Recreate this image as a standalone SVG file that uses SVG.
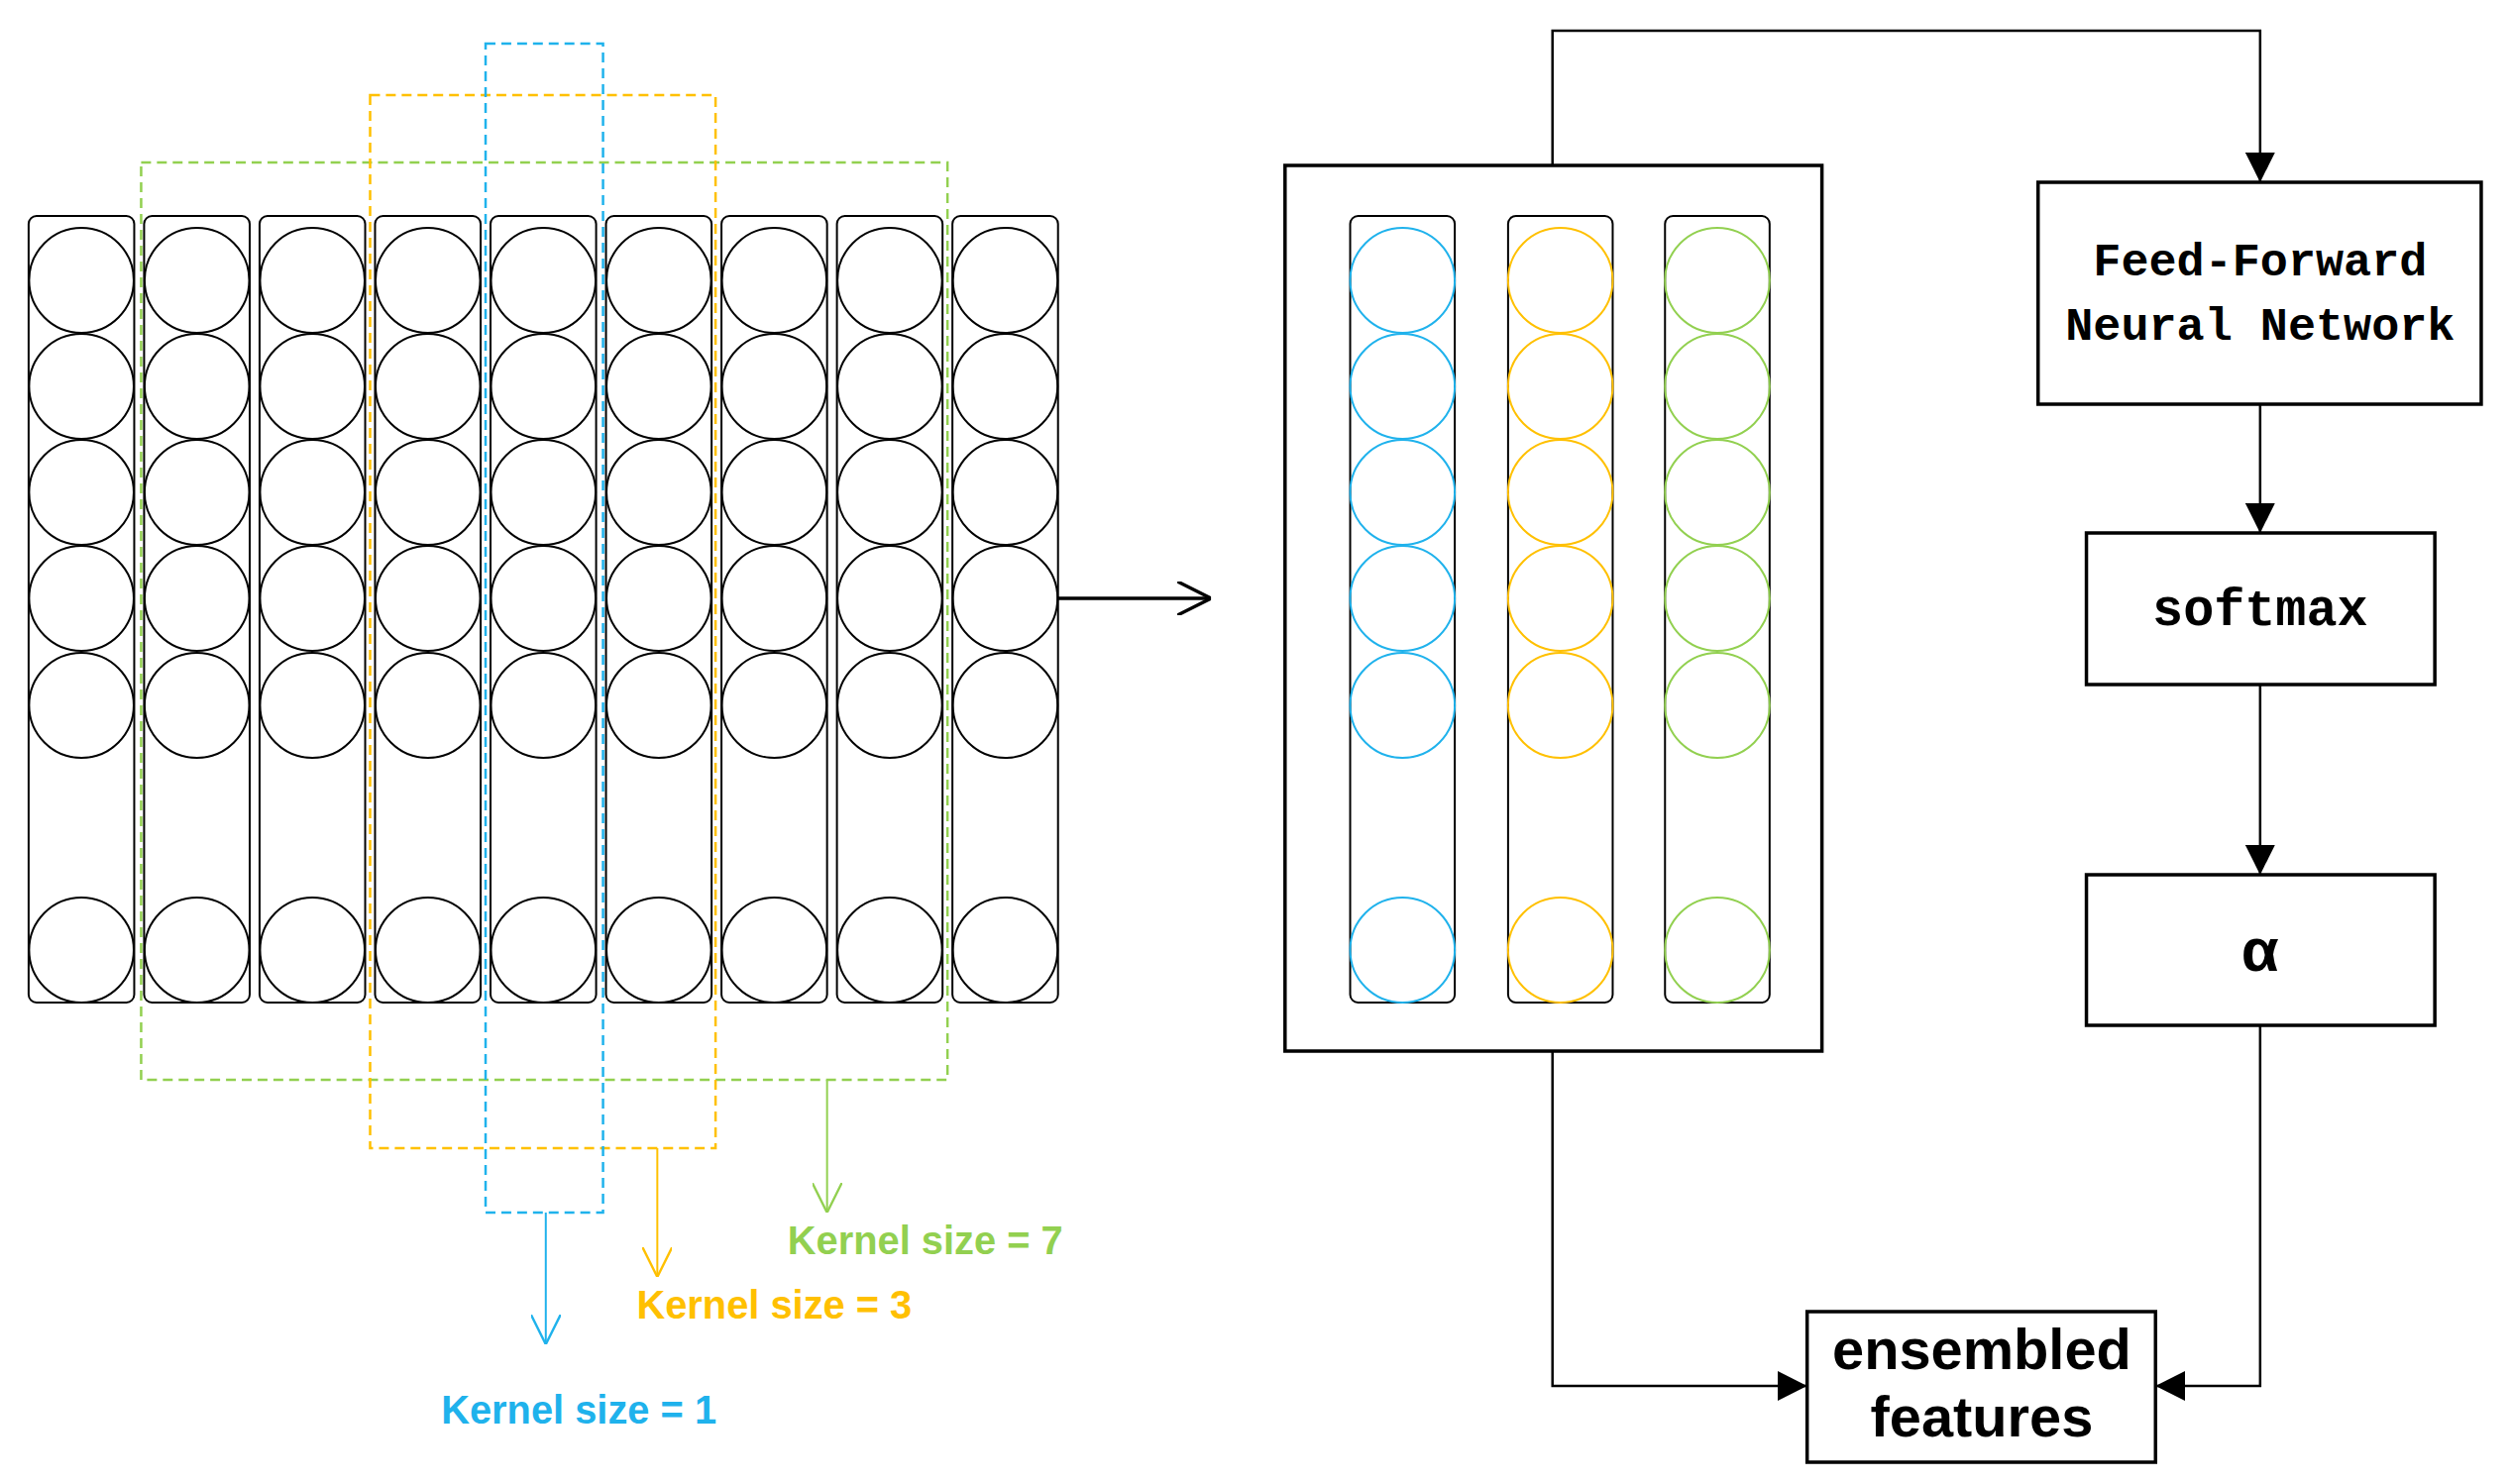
<svg xmlns="http://www.w3.org/2000/svg" width="2535" height="1498" viewBox="0 0 2535 1498">
<style>
.col{fill:none;stroke:#000;stroke-width:2}
.c{fill:none;stroke:#000;stroke-width:2}
.cb{fill:none;stroke:#1FB2EC;stroke-width:2}
.cy{fill:none;stroke:#FFC000;stroke-width:2}
.cg{fill:none;stroke:#92D050;stroke-width:2}
.box{fill:#fff;stroke:#000;stroke-width:3.5}
.line{fill:none;stroke:#000;stroke-width:2.5}
.mono{font-family:"Liberation Mono","DejaVu Sans Mono",monospace;font-weight:bold;fill:#000;text-anchor:middle}
.sans{font-family:"Liberation Sans",Arial,sans-serif;font-weight:bold;text-anchor:middle}
.k{font-family:"Liberation Sans",Arial,sans-serif;font-size:40px;font-weight:bold}
</style>
<defs>
<marker id="fb" viewBox="0 0 10 10" refX="10" refY="5" markerWidth="30" markerHeight="30" orient="auto" markerUnits="userSpaceOnUse"><path d="M0,0 L10,5 L0,10 z" fill="#000"/></marker>
<marker id="ob" viewBox="0 0 10 10" refX="10" refY="5" markerWidth="34" markerHeight="34" orient="auto" markerUnits="userSpaceOnUse"><path d="M0,0 L10,5 L0,10" fill="none" stroke="#000" stroke-width="1"/></marker>
<marker id="ogr" viewBox="0 0 10 10" refX="10" refY="5" markerWidth="30" markerHeight="30" orient="auto" markerUnits="userSpaceOnUse"><path d="M0,0 L10,5 L0,10" fill="none" stroke="#92D050" stroke-width="0.8"/></marker>
<marker id="oye" viewBox="0 0 10 10" refX="10" refY="5" markerWidth="30" markerHeight="30" orient="auto" markerUnits="userSpaceOnUse"><path d="M0,0 L10,5 L0,10" fill="none" stroke="#FFC000" stroke-width="0.8"/></marker>
<marker id="obl" viewBox="0 0 10 10" refX="10" refY="5" markerWidth="30" markerHeight="30" orient="auto" markerUnits="userSpaceOnUse"><path d="M0,0 L10,5 L0,10" fill="none" stroke="#1FB2EC" stroke-width="0.8"/></marker>
<g id="colL">
<rect class="col" x="0" y="218" width="107" height="794" rx="8"/>
<circle class="c" cx="53.5" cy="283" r="53"/><circle class="c" cx="53.5" cy="390" r="53"/><circle class="c" cx="53.5" cy="497" r="53"/><circle class="c" cx="53.5" cy="604" r="53"/><circle class="c" cx="53.5" cy="712" r="53"/><circle class="c" cx="53.5" cy="959" r="53"/>
</g>
</defs>
<g transform="scale(0.996,1)">
<g id="input-columns">
<use href="#colL" x="29"/><use href="#colL" x="146"/><use href="#colL" x="263"/><use href="#colL" x="380"/><use href="#colL" x="497"/><use href="#colL" x="614"/><use href="#colL" x="731"/><use href="#colL" x="848"/><use href="#colL" x="965"/>
</g>
<g id="kernels">
<rect x="143" y="164" width="817" height="926" fill="none" stroke="#92D050" stroke-width="2.5" stroke-dasharray="10,6"/>
<rect x="375" y="96" width="350" height="1063" fill="none" stroke="#FFC000" stroke-width="2.5" stroke-dasharray="10,6"/>
<rect x="492" y="44" width="119" height="1180" fill="none" stroke="#1FB2EC" stroke-width="2.5" stroke-dasharray="10,6"/>
<text class="k" x="798" y="1266" fill="#92D050">Kernel size = 7</text>
<text class="k" x="645" y="1331" fill="#FFC000">Kernel size = 3</text>
<text class="k" x="447" y="1437" fill="#1FB2EC">Kernel size = 1</text>
</g>
<g id="multi-scale">
<rect class="box" x="1302" y="167" width="544" height="894"/>
<rect class="col" x="1368" y="218" width="106" height="794" rx="8"/>
<rect class="col" x="1528" y="218" width="106" height="794" rx="8"/>
<rect class="col" x="1687" y="218" width="106" height="794" rx="8"/>
<g class="cb"><circle cx="1421" cy="283" r="53"/><circle cx="1421" cy="390" r="53"/><circle cx="1421" cy="497" r="53"/><circle cx="1421" cy="604" r="53"/><circle cx="1421" cy="712" r="53"/><circle cx="1421" cy="959" r="53"/></g>
<g class="cy"><circle cx="1581" cy="283" r="53"/><circle cx="1581" cy="390" r="53"/><circle cx="1581" cy="497" r="53"/><circle cx="1581" cy="604" r="53"/><circle cx="1581" cy="712" r="53"/><circle cx="1581" cy="959" r="53"/></g>
<g class="cg"><circle cx="1740" cy="283" r="53"/><circle cx="1740" cy="390" r="53"/><circle cx="1740" cy="497" r="53"/><circle cx="1740" cy="604" r="53"/><circle cx="1740" cy="712" r="53"/><circle cx="1740" cy="959" r="53"/></g>
</g>
<g id="ffnn">
<rect class="box" x="2065" y="184" width="449" height="224"/>
<text class="mono" x="2290" y="278" font-size="47">Feed-Forward</text>
<text class="mono" x="2290" y="343" font-size="47">Neural Network</text>
</g>
<g id="softmax">
<rect class="box" x="2114" y="538" width="353" height="153"/>
<text class="mono" x="2290" y="631" font-size="52">softmax</text>
</g>
<g id="alpha">
<rect class="box" x="2114" y="883" width="353" height="152"/>
<text class="sans" x="2290" y="980" font-size="62" fill="#000">α</text>
</g>
<g id="ensembled">
<rect class="box" x="1831" y="1324" width="353" height="152"/>
<text class="sans" x="2008" y="1382" font-size="58" fill="#000">ensembled</text>
<text class="sans" x="2008" y="1450" font-size="58" fill="#000">features</text>
</g>
<g id="connectors">
<line x1="1071" y1="604" x2="1227" y2="604" stroke="#000" stroke-width="3.5" marker-end="url(#ob)"/>
<line x1="838" y1="1090" x2="838" y2="1224" stroke="#92D050" stroke-width="2" marker-end="url(#ogr)"/>
<line x1="666" y1="1159" x2="666" y2="1289" stroke="#FFC000" stroke-width="2" marker-end="url(#oye)"/>
<line x1="553" y1="1224" x2="553" y2="1357" stroke="#1FB2EC" stroke-width="2" marker-end="url(#obl)"/>
<polyline class="line" stroke-width="3.5" points="1573,167 1573,31 2290,31 2290,184" marker-end="url(#fb)"/>
<line class="line" x1="2290" y1="408" x2="2290" y2="538" marker-end="url(#fb)"/>
<line class="line" x1="2290" y1="691" x2="2290" y2="883" marker-end="url(#fb)"/>
<polyline class="line" points="2290,1035 2290,1399 2184,1399" marker-end="url(#fb)"/>
<polyline class="line" points="1573,1061 1573,1399 1831,1399" marker-end="url(#fb)"/>
</g>
</g>
</svg>
